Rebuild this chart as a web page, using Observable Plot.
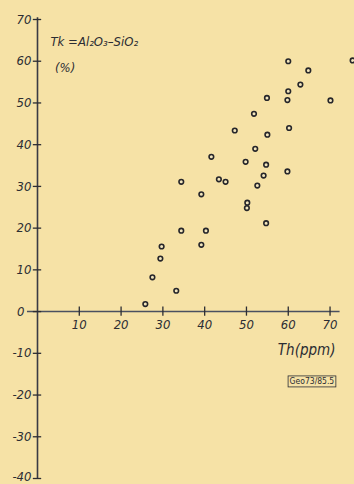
<!DOCTYPE html>
<html>
<head>
<meta charset="utf-8">
<script src="https://cdn.jsdelivr.net/npm/d3@7"></script>
<script src="https://cdn.jsdelivr.net/npm/@observablehq/plot@0.6"></script>
<style>
  html, body { margin: 0; padding: 0; background: #f6e2a6; }
  #chart svg { display: block; }
  #chart svg text { font-family: "DejaVu Sans", sans-serif; font-stretch: condensed; font-style: italic; }
  #chart svg .stamp text { font-style: normal; }
</style>
</head>
<body>
<div id="chart"></div>
<script>
// Th (ppm) values
const thValues = [60.0, 75.4, 64.8, 62.9, 60.0, 54.9, 59.8, 70.1, 51.8, 47.2, 55.0, 60.2,
                  52.1, 41.6, 49.8, 54.7, 54.1, 59.8, 34.4, 43.4, 45.0, 52.6, 39.2, 50.2,
                  50.1, 54.7, 34.4, 40.3, 39.2, 29.7, 29.4, 27.5, 33.2, 25.8];
// Tk = Al2O3 - SiO2 (%) values
const tkValues = [60.0, 60.2, 57.8, 54.4, 52.8, 51.2, 50.7, 50.6, 47.4, 43.4, 42.4, 44.0,
                  39.0, 37.1, 35.9, 35.2, 32.6, 33.6, 31.1, 31.7, 31.1, 30.2, 28.1, 26.1,
                  24.8, 21.2, 19.4, 19.4, 16.0, 15.6, 12.7, 8.2, 5.0, 1.8];
const xTicks = [10, 20, 30, 40, 50, 60, 70];
const yTicks = [70, 60, 50, 40, 30, 20, 10, 0, -10, -20, -30, -40];
const titleText = ["Tk =Al₂O₃–SiO₂"];
const unitText = ["(%)"];
const xLabel = ["Th(ppm)"];
const stampText = ["Geo73/85.5"];

const data = thValues.map((x, i) => ({x, y: tkValues[i]}));

const ink = "#2c2d33";

const chart = Plot.plot({
  width: 354,
  height: 484,
  marginLeft: 37,
  marginRight: 14,
  marginTop: 19,
  marginBottom: 6,
  x: {domain: [0, 72.5], axis: null},
  y: {domain: [-40, 70], axis: null},
  style: {background: "transparent", color: ink},
  marks: [
    Plot.ruleX([0], {y1: -40, y2: 70.4, stroke: "#3a3b44", strokeWidth: 1.6}),
    Plot.ruleY([0], {x1: -2.4, x2: 72.4, stroke: "#4a5060", strokeWidth: 1.5}),
    Plot.ruleY(yTicks, {x1: -1, x2: 1, stroke: ink, strokeWidth: 1.3}),
    Plot.ruleX(xTicks, {y1: -1.1, y2: 1.1, stroke: ink, strokeWidth: 1.3}),
    Plot.text(yTicks.filter(d => d !== 0 && d !== -40), {x: 0, y: d => d, dx: -6, textAnchor: "end", text: d => String(d), fontSize: 13, fill: ink}),
    Plot.text(yTicks.filter(d => d === -40), {x: 0, y: d => d, dx: -6, dy: -2, textAnchor: "end", text: d => String(d), fontSize: 13, fill: ink}),
    Plot.text(yTicks.filter(d => d === 0), {x: -2.4, y: d => d, dx: -3, textAnchor: "end", text: d => String(d), fontSize: 13, fill: ink}),
    Plot.text(xTicks, {x: d => d, y: 0, dy: 13, text: d => String(d), fontSize: 13, fill: ink}),
    Plot.dot(data, {x: "x", y: "y", r: 2.3, stroke: "#26262a", strokeWidth: 1.6, fill: "#f3e6bd"}),
    Plot.text(titleText, {x: 3.1, y: 64.6, textAnchor: "start", text: d => d, fontSize: 13, fill: ink}),
    Plot.text(unitText, {x: 4.2, y: 58.3, textAnchor: "start", text: d => d, fontSize: 13, fill: ink}),
    Plot.text(xLabel, {x: 71.3, y: -9.3, textAnchor: "end", text: d => d, fontSize: 15, fill: ink}),
    Plot.text(stampText, {x: 71.0, y: -16.8, textAnchor: "end", text: d => d, fontSize: 8.5, fill: ink, className: "stamp"})
  ]
});
document.getElementById("chart").appendChild(chart);

// frame around the stamp text, sized from its rendered box
const stamp = chart.querySelector(".stamp text");
if (stamp) {
  const b = stamp.getBBox();
  const ns = "http://www.w3.org/2000/svg";
  const r = document.createElementNS(ns, "rect");
  r.setAttribute("x", b.x - 1.5);
  r.setAttribute("y", b.y - 0.5);
  r.setAttribute("width", b.width + 3);
  r.setAttribute("height", b.height + 1);
  r.setAttribute("fill", "none");
  r.setAttribute("stroke", ink);
  r.setAttribute("stroke-width", 0.8);
  const t = stamp.getAttribute("transform");
  if (t) r.setAttribute("transform", t);
  stamp.parentNode.insertBefore(r, stamp);
}
</script>
</body>
</html>
